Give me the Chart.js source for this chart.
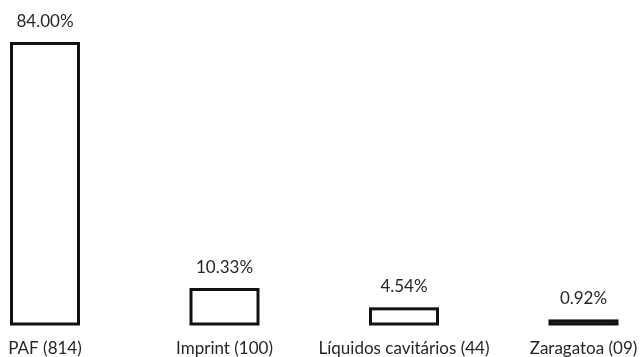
<!DOCTYPE html>
<html>
<head>
<meta charset="utf-8">
<script src="https://cdn.jsdelivr.net/npm/chart.js@4/dist/chart.umd.min.js"></script>
<style>
  html, body { margin: 0; padding: 0; background: #fff; }
  #wrap { width: 640px; height: 357px; position: relative; }
</style>
</head>
<body>
<div id="wrap"><canvas id="c"></canvas></div>
<script>
// Sample types and their share of the total
const categories = ['PAF (814)', 'Imprint (100)', 'Líquidos cavitários (44)', 'Zaragatoa (09)'];
const shares = [84.00, 10.33, 4.54, 0.92];
const shareLabels = ['84.00%', '10.33%', '4.54%', '0.92%'];

const textColor = '#262626';
const outlineColor = '#111';

// Outline each bar with a stroke centred on its edges
const barOutline = {
  id: 'barOutline',
  afterDatasetsDraw(chart) {
    const ctx = chart.ctx;
    const meta = chart.getDatasetMeta(0);
    ctx.save();
    ctx.strokeStyle = outlineColor;
    ctx.lineWidth = 3;
    ctx.lineJoin = 'miter';
    meta.data.forEach(bar => {
      const left = bar.x - bar.width / 2;
      const top = Math.min(bar.y, bar.base);
      const h = Math.abs(bar.base - bar.y);
      ctx.strokeRect(left, top, bar.width, h);
    });
    ctx.restore();
  }
};

// Percentage printed above each bar
const valueLabels = {
  id: 'valueLabels',
  afterDatasetsDraw(chart) {
    const ctx = chart.ctx;
    const meta = chart.getDatasetMeta(0);
    ctx.save();
    ctx.font = '17px Lato';
    ctx.fillStyle = textColor;
    ctx.textAlign = 'center';
    ctx.textBaseline = 'middle';
    meta.data.forEach((bar, i) => {
      ctx.fillText(shareLabels[i], bar.x, bar.y - 22);
    });
    ctx.restore();
  }
};

new Chart(document.getElementById('c'), {
  type: 'bar',
  data: {
    labels: categories,
    datasets: [{
      data: shares,
      backgroundColor: '#fff',
      borderWidth: 0,
      barThickness: 67,
      clip: false
    }]
  },
  options: {
    responsive: true,
    maintainAspectRatio: false,
    animation: false,
    layout: { padding: { left: 45, right: 56.5, top: 0, bottom: 0 } },
    plugins: { legend: { display: false }, tooltip: { enabled: false } },
    scales: {
      x: {
        offset: false,
        grid: { display: false, drawTicks: false },
        border: { display: false },
        ticks: { font: { family: 'Lato', size: 17 }, color: textColor, padding: 14, maxRotation: 0, autoSkip: false },
        afterFit(scale) {
          scale.height = 33;
          scale.paddingLeft = 0;
          scale.paddingRight = 0;
        }
      },
      y: {
        display: false,
        min: 0,
        max: 97.03
      }
    }
  },
  plugins: [barOutline, valueLabels]
});
</script>
</body>
</html>
